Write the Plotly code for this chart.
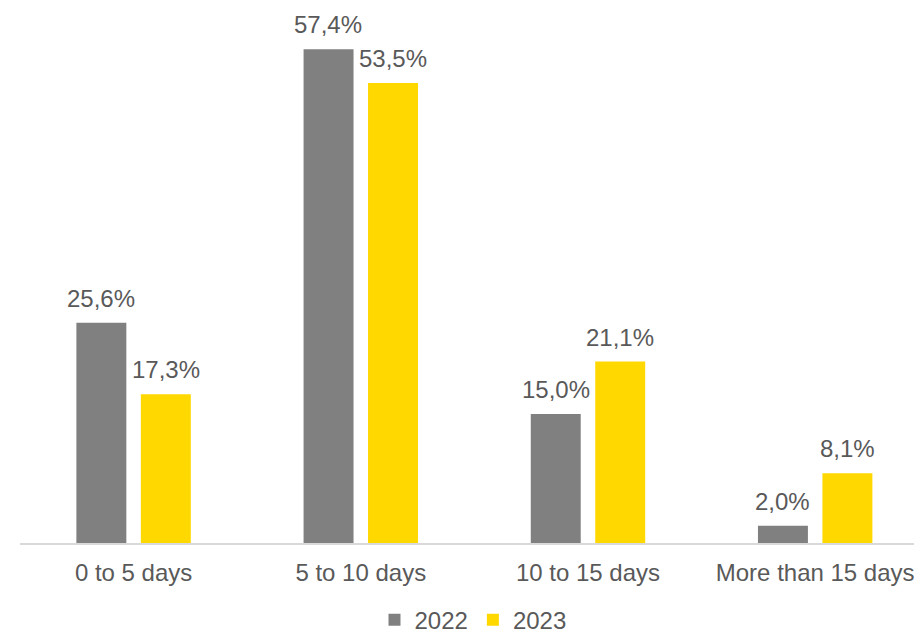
import plotly.graph_objects as go

categories = ["0 to 5 days", "5 to 10 days", "10 to 15 days", "More than 15 days"]
values_2022 = [25.6, 57.4, 15.0, 2.0]
values_2023 = [17.3, 53.5, 21.1, 8.1]
series_names = ["2022", "2023"]

COLORS = ["#808080", "#FFD800"]
TEXT = "#595959"
FONT = "Liberation Sans, Arial, sans-serif"
FS = 24

fig = go.Figure()
for name, vals, col in zip(series_names, [values_2022, values_2023], COLORS):
    fig.add_trace(go.Bar(x=categories, y=vals, name=name, marker_color=col,
                         marker_line_width=0))

def fmt(v):
    return f"{v:.1f}".replace(".", ",") + "%"

for vals, shift in zip([values_2022, values_2023], [-32.3, 32.3]):
    for c, v in zip(categories, vals):
        fig.add_annotation(x=c, y=v, text=fmt(v), showarrow=False, xshift=shift,
                           yanchor="bottom", yshift=9,
                           font=dict(size=FS, color=TEXT, family=FONT))

fig.update_layout(
    width=914, height=634,
    margin=dict(l=20, r=0, t=27, b=91),
    paper_bgcolor="white", plot_bgcolor="white",
    barmode="group", bargap=0.4325, bargroupgap=0.225,
    font=dict(family=FONT, size=FS, color=TEXT),
    showlegend=True,
    legend=dict(orientation="h", x=0.5175, xanchor="center", xref="container",
                y=0.022, yanchor="middle", yref="container",
                font=dict(size=FS, color=TEXT), itemwidth=30, traceorder="normal"),
    xaxis=dict(showline=True, linecolor="#d9d9d9", linewidth=2, ticks="",
               automargin=False, ticklabelstandoff=7, range=[-0.5, 3.435],
               tickfont=dict(size=FS, color=TEXT), fixedrange=True),
    yaxis=dict(range=[0, 60], visible=False, showgrid=False, zeroline=False,
               automargin=False, fixedrange=True),
)

# remove the default 8px page margin so the figure fills the window exactly
fig.write_html("out.html", config={"displayModeBar": False},
               post_script="document.body.style.margin='0';document.body.style.overflow='hidden';")
